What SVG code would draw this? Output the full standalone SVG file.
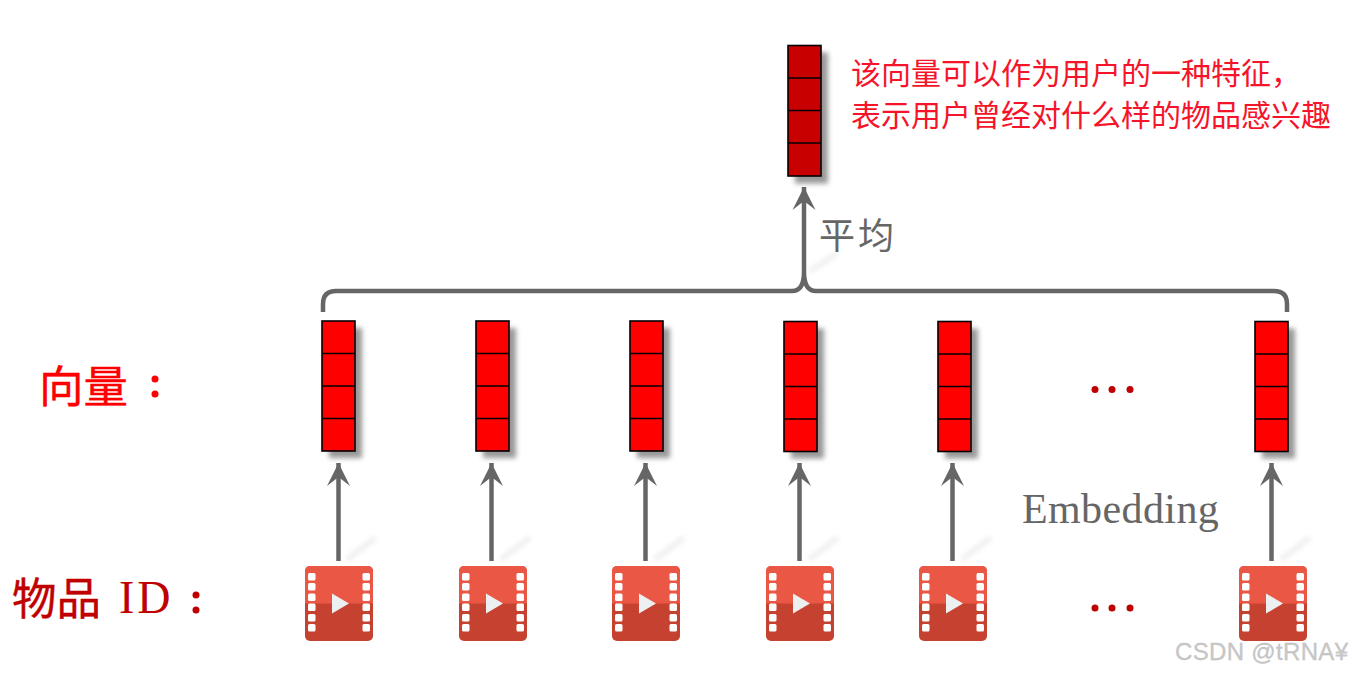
<svg xmlns="http://www.w3.org/2000/svg" width="1352" height="674" viewBox="0 0 1352 674">
<style>
.cell{fill:#ff0000;stroke:#000;stroke-width:1.6}
.topcell{fill:#c80000;stroke:#000;stroke-width:1.6}
.shadow{fill:#444;opacity:.55;filter:url(#blur)}
.conn{fill:none;stroke:#666;stroke-width:4.5}
.glint{stroke:#ddd;stroke-width:6;stroke-linecap:round;opacity:.4;filter:url(#blur1)}
.note{font-family:"Noto Sans CJK SC",sans-serif;font-size:30px;fill:#f5142a}
.side{font-family:"Liberation Serif","Noto Sans CJK SC",serif;font-size:44.5px;stroke-width:.4}
.gray{font-family:"Liberation Serif","Noto Sans CJK SC",serif;fill:#666}
.dot{fill:#c00000}
</style>
<defs>
<filter id="blur" x="-40%" y="-20%" width="180%" height="140%"><feGaussianBlur stdDeviation="2.5"/></filter>
<filter id="blur1" x="-30%" y="-100%" width="160%" height="300%"><feGaussianBlur stdDeviation="2"/></filter>
<marker id="arrow" markerUnits="userSpaceOnUse" markerWidth="26" markerHeight="26" refX="24" refY="13" orient="auto">
<path d="M1 1.500L24 13L1 24.500L10 13Z" fill="#666"/>
</marker>
<g id="vec">
<rect class="shadow" x="7" y="7" width="33" height="130"/>
<rect class="cell" x="0" y="0" width="33" height="130"/>
<path d="M0 32.500H33M0 65H33M0 97.500H33" stroke="#000" stroke-width="1.600"/>
</g>
<g id="film">
<rect x="0" y="0" width="68" height="75" rx="5" fill="#c64230"/>
<path d="M0 37.500V5a5 5 0 0 1 5-5H63a5 5 0 0 1 5 5V37.500Z" fill="#ea5745"/>
<g fill="#fff">
<rect x="3" y="7" width="7.500" height="7.500" rx="1.500"/><rect x="3" y="17" width="7.500" height="7.500" rx="1.500"/><rect x="3" y="27.500" width="7.500" height="7.500" rx="1.500"/><rect x="3" y="37.500" width="7.500" height="7.500" rx="1.500"/><rect x="3" y="48" width="7.500" height="7.500" rx="1.500"/><rect x="3" y="58" width="7.500" height="7.500" rx="1.500"/>
<rect x="57.500" y="7" width="7.500" height="7.500" rx="1.500"/><rect x="57.500" y="17" width="7.500" height="7.500" rx="1.500"/><rect x="57.500" y="27.500" width="7.500" height="7.500" rx="1.500"/><rect x="57.500" y="37.500" width="7.500" height="7.500" rx="1.500"/><rect x="57.500" y="48" width="7.500" height="7.500" rx="1.500"/><rect x="57.500" y="58" width="7.500" height="7.500" rx="1.500"/>
</g>
<path d="M27 27.500L44 37.500L27 47.500Z" fill="#ecf0f1"/>
</g>
</defs>
<rect width="1352" height="674" fill="#fff"/>

<g id="glints">
<path class="glint" d="M349 558L374 539"/><path class="glint" d="M503 558L528 539"/><path class="glint" d="M657 558L682 539"/><path class="glint" d="M811 558L836 539"/><path class="glint" d="M964 558L989 539"/><path class="glint" d="M1283 558L1308 539"/><path class="glint" d="M812 270L836 254"/>
</g>

<g id="connectors">
<path class="conn" d="M338.500 561V463" marker-end="url(#arrow)"/>
<path class="conn" d="M491.500 561V463" marker-end="url(#arrow)"/>
<path class="conn" d="M645.500 561V463" marker-end="url(#arrow)"/>
<path class="conn" d="M799.500 561V463" marker-end="url(#arrow)"/>
<path class="conn" d="M952.500 561V463" marker-end="url(#arrow)"/>
<path class="conn" d="M1271.500 561V463" marker-end="url(#arrow)"/>
<path class="conn" d="M804 272V187" marker-end="url(#arrow)"/>
<path class="conn" d="M323 312V304Q323 291 336 291H792Q804 291 804 272Q804 291 816 291H1274Q1287 291 1287 304V312"/>
</g>

<g id="top-vector">
<rect class="shadow" x="795" y="52.500" width="33" height="131"/>
<rect class="topcell" x="788" y="45.500" width="33" height="130.500"/>
<path d="M788 78H821M788 110.500H821M788 143H821" stroke="#000" stroke-width="1.600"/></g>
<g id="vector-1"><use href="#vec" x="322" y="321"/></g>
<g id="vector-2"><use href="#vec" x="476" y="321"/></g>
<g id="vector-3"><use href="#vec" x="630" y="321"/></g>
<g id="vector-4"><use href="#vec" x="784" y="321.500"/></g>
<g id="vector-5"><use href="#vec" x="938" y="321.500"/></g>
<g id="vector-6"><use href="#vec" x="1255" y="321.500"/></g>

<g id="item-1"><use href="#film" x="305" y="566"/></g>
<g id="item-2"><use href="#film" x="459" y="566"/></g>
<g id="item-3"><use href="#film" x="612" y="566"/></g>
<g id="item-4"><use href="#film" x="766" y="566"/></g>
<g id="item-5"><use href="#film" x="919" y="566"/></g>
<g id="item-6"><use href="#film" x="1239" y="566"/></g>

<g id="labels">
<text class="note" x="851" y="84">该向量可以作为用户的一种特征，</text>
<text class="note" x="851" y="126">表示用户曾经对什么样的物品感兴趣</text>
<text class="gray" x="819" y="249" font-size="36" letter-spacing="3">平均</text>
<text class="gray" x="1022" y="523" font-size="42" letter-spacing=".4">Embedding</text>
<text class="side" x="39" y="403" fill="#ff0000" stroke="#ff0000">向量</text>
<circle cx="155" cy="379" r="3.500" fill="#ff0000"/><circle cx="155" cy="394" r="3.500" fill="#ff0000"/>
<text class="side" x="12" y="615" fill="#c00000" stroke="#c00000">物品</text>
<text x="119" y="613" fill="#c00000" font-family="Liberation Serif,serif" font-size="46" letter-spacing="3">ID</text>
<circle class="dot" cx="196" cy="595" r="3.500"/><circle class="dot" cx="196" cy="610" r="3.500"/>
<circle class="dot" cx="1095" cy="389.500" r="3.500"/><circle class="dot" cx="1112" cy="389.500" r="3.500"/><circle class="dot" cx="1130" cy="389.500" r="3.500"/>
<circle class="dot" cx="1095" cy="608" r="3.500"/><circle class="dot" cx="1112" cy="608" r="3.500"/><circle class="dot" cx="1130" cy="608" r="3.500"/>
<text x="1175" y="660" font-family="Liberation Sans,sans-serif" font-size="24" fill="#c8c8c8" stroke="#bbb" stroke-width=".3" textLength="173">CSDN @tRNA¥</text>
</g>
</svg>
